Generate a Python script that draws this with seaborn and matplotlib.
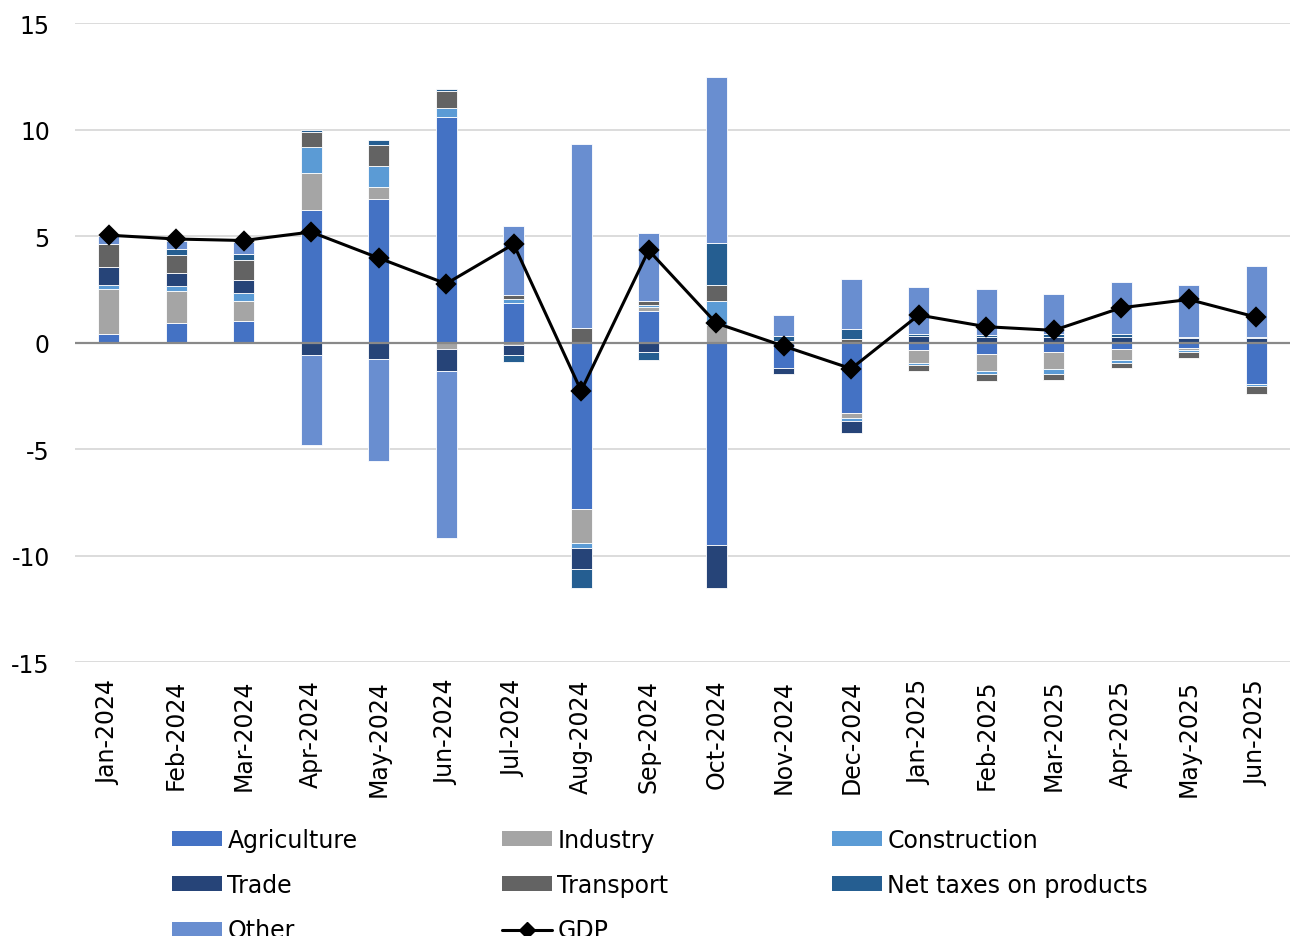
import numpy as np
import matplotlib
matplotlib.use("Agg")
import matplotlib.pyplot as plt
from matplotlib.patches import Patch
from matplotlib.lines import Line2D
import seaborn as sns

months = ["Jan-2024", "Feb-2024", "Mar-2024", "Apr-2024", "May-2024", "Jun-2024",
          "Jul-2024", "Aug-2024", "Sep-2024", "Oct-2024", "Nov-2024", "Dec-2024",
          "Jan-2025", "Feb-2025", "Mar-2025", "Apr-2025", "May-2025", "Jun-2025"]

# contributions, percentage points
agriculture = [0.42, 0.92, 1.03, 6.21, 6.77, 10.60, 1.86, -7.79, 1.50, -9.48, -1.17, -3.31,
               -0.36, -0.52, -0.45, -0.31, -0.27, -1.95]
industry = [2.10, 1.49, 0.95, 1.77, 0.55, -0.30, -0.12, -1.61, 0.20, 0.81, 0.00, -0.22,
            -0.59, -0.81, -0.78, -0.50, -0.05, 0.00]
construction = [0.19, 0.25, 0.34, 1.22, 0.97, 0.44, 0.19, -0.24, 0.05, 1.13, 0.00, -0.17,
                -0.09, -0.13, -0.22, -0.13, -0.11, -0.08]
trade = [0.85, 0.63, 0.63, -0.60, -0.78, -1.05, -0.44, -1.00, -0.44, -2.05, -0.28, -0.55,
         0.31, 0.28, 0.28, 0.25, 0.23, 0.22]
transport = [1.06, 0.83, 0.95, 0.70, 1.00, 0.78, 0.20, 0.68, 0.22, 0.79, 0.09, 0.16,
             -0.28, -0.34, -0.30, -0.27, -0.27, -0.36]
net_taxes = [0.00, 0.27, 0.28, 0.08, 0.23, 0.12, -0.36, -0.90, -0.37, 1.94, 0.22, 0.48,
             0.12, 0.08, 0.11, 0.14, 0.05, 0.06]
other = [0.39, 0.41, 0.55, -4.19, -4.77, -7.82, 3.24, 8.63, 3.16, 7.82, 0.97, 2.36,
         2.17, 2.17, 1.92, 2.44, 2.42, 3.34]
gdp = [5.05, 4.87, 4.80, 5.20, 3.98, 2.77, 4.63, -2.26, 4.34, 0.92, -0.16, -1.22,
       1.30, 0.75, 0.58, 1.64, 2.03, 1.20]

series = [
    ("Agriculture", agriculture, "#4472C4"),
    ("Industry", industry, "#A5A5A5"),
    ("Construction", construction, "#5B9BD5"),
    ("Trade", trade, "#264478"),
    ("Transport", transport, "#636363"),
    ("Net taxes on products", net_taxes, "#255E91"),
    ("Other", other, "#698ED0"),
]

sns.set_style("white")
plt.rcParams["font.family"] = ["DejaVu Sans"]
plt.rcParams["axes.unicode_minus"] = False
plt.rcParams["text.color"] = "black"
plt.rcParams["xtick.color"] = "black"
plt.rcParams["ytick.color"] = "black"
FS = 17

fig, ax = plt.subplots(figsize=(12.9, 9.37), dpi=100)
fig.subplots_adjust(left=0.058, right=1.0, top=0.974, bottom=0.2924)

# stacked bars like Excel: positives up, negatives down
pos = np.zeros(len(months))
neg = np.zeros(len(months))
handles = {}
for name, vals, color in series:
    vals = np.array(vals)
    bottom = np.where(vals >= 0, pos, neg)
    sns.barplot(x=months, y=vals, bottom=bottom, color=color, saturation=1,
                width=0.31, edgecolor="white", linewidth=0.6, ax=ax, zorder=2)
    pos = pos + np.where(vals >= 0, vals, 0)
    neg = neg + np.where(vals < 0, vals, 0)
    handles[name] = Patch(facecolor=color, edgecolor="none")

ax.axhline(0, color="#898989", lw=1.6, zorder=3)

sns.pointplot(x=months, y=gdp, color="black", markers="D", linestyles="-",
              markersize=9, linewidth=2.2, errorbar=None, ax=ax, zorder=5)

ax.set_ylim(-15, 15)
ax.set_xlim(-0.5, len(months) - 0.5)
ax.set_yticks([-15, -10, -5, 0, 5, 10, 15])
ax.yaxis.grid(True, color="#D9D9D9", lw=1.3, zorder=0)
ax.set_axisbelow(True)
ax.set_xlabel("")
ax.set_ylabel("")
for s in ax.spines.values():
    s.set_visible(False)
ax.tick_params(axis="y", length=0, pad=18, labelsize=FS, labelcolor="black")
ax.tick_params(axis="x", length=0, pad=12, labelsize=FS, labelcolor="black")
plt.setp(ax.get_xticklabels(), rotation=90)

handles["GDP"] = Line2D([0], [0], color="black", lw=2.2, marker="D", markersize=8)

# legend, one column at a time
columns = [
    (["Agriculture", "Trade", "Other"], 172),
    (["Industry", "Transport", "GDP"], 502),
    (["Construction", "Net taxes on products"], 832),
]
for names, xpix in columns:
    leg = fig.legend([handles[n] for n in names], names, loc="upper left",
                     bbox_to_anchor=(xpix / 1290, 1 - 829 / 937), frameon=False,
                     fontsize=FS, handlelength=2.1, handleheight=0.6,
                     handletextpad=0.25, labelspacing=0.9, borderpad=0,
                     borderaxespad=0, labelcolor="black")

fig.savefig("out.png", dpi=100)
